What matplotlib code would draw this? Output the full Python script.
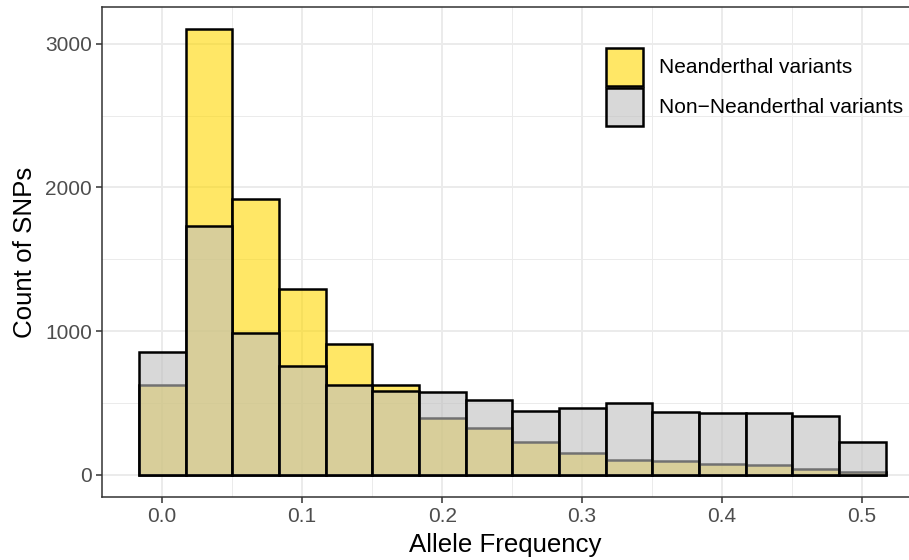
import numpy as np
import matplotlib
matplotlib.use("Agg")
import matplotlib.pyplot as plt
from matplotlib.patches import Patch
from matplotlib.transforms import Bbox

plt.rcParams['font.family'] = ['Liberation Sans', 'DejaVu Sans']

# histogram bins: centres at k/30, width 1/30
bin_centres = np.arange(16) / 30
bin_width = 1 / 30

# counts
neand_counts = [622, 3101, 1916, 1290, 910, 625, 392, 325, 226, 152, 105, 93, 77, 68, 42, 20]
non_neand_counts = [851, 1730, 986, 754, 626, 584, 574, 523, 441, 467, 498, 437, 428, 432, 409, 227]
series_labels = ["Neanderthal variants", "Non\u2212Neanderthal variants"]

gold = (1.0, 0.843, 0.0, 0.6)
grey = (0.745, 0.745, 0.745, 0.6)

W, H = 909, 560
fig = plt.figure(figsize=(W / 100, H / 100), dpi=100)
left_px = 101.5
ax = fig.add_axes([left_px / W, 63 / H, (W - left_px) / W, 490 / H])

ax.bar(bin_centres, neand_counts, width=bin_width, facecolor=gold,
       edgecolor='black', linewidth=1.8, zorder=2)
ax.bar(bin_centres, non_neand_counts, width=bin_width, facecolor=grey,
       edgecolor='black', linewidth=1.8, zorder=3)

ax.set_xticks(np.arange(0, 0.51, 0.1))
ax.set_xticklabels([f"{v:.1f}" for v in np.arange(0, 0.51, 0.1)])
ax.set_xticks(np.arange(0.05, 0.5, 0.1), minor=True)
ax.set_yticks([0, 1000, 2000, 3000])
ax.set_yticks([500, 1500, 2500], minor=True)

# ggplot style 5% expansion; the panel is cut off at the right edge
# (limits set after the ticks so set_xticks can't widen them)
x0, x1 = -1 / 60, 31 / 60
dx = (x1 - x0) * 0.05
px_per_unit = 1400
ax.set_xlim(x0 - dx, x0 - dx + (W - left_px) / px_per_unit)
ymax = max(max(neand_counts), max(non_neand_counts))
ax.set_ylim(-0.05 * ymax, ymax * 1.05)

ax.set_axisbelow(True)
ax.grid(which='major', color='#EBEBEB', linewidth=1.4, zorder=0)
ax.grid(which='minor', color='#EBEBEB', linewidth=0.7, zorder=0)

for s in ax.spines.values():
    s.set_color('#333333')
    s.set_linewidth(1.1)
ax.spines['right'].set_visible(False)

ax.tick_params(which='major', length=4, width=1.1, color='#333333',
               labelsize=15, labelcolor='#4D4D4D', pad=3)
ax.tick_params(which='minor', length=0)

ax.set_xlabel("Allele Frequency", fontsize=18.6, labelpad=5)
ax.set_ylabel("Count of SNPs", fontsize=18.6, labelpad=6)

handles = [Patch(facecolor=gold, edgecolor='black', linewidth=1.8),
           Patch(facecolor=grey, edgecolor='black', linewidth=1.8)]
ax.legend(handles, series_labels, loc='upper left',
          bbox_to_anchor=(606 / W, 1 - 48 / H), bbox_transform=fig.transFigure,
          frameon=False, fontsize=15, borderpad=0, borderaxespad=0,
          handlelength=1.78, handleheight=2.42, labelspacing=0.1,
          handletextpad=0.77)

fig.savefig("out.png", dpi=100,
            bbox_inches=Bbox([[0, 0], [W / 100, H / 100]]))
